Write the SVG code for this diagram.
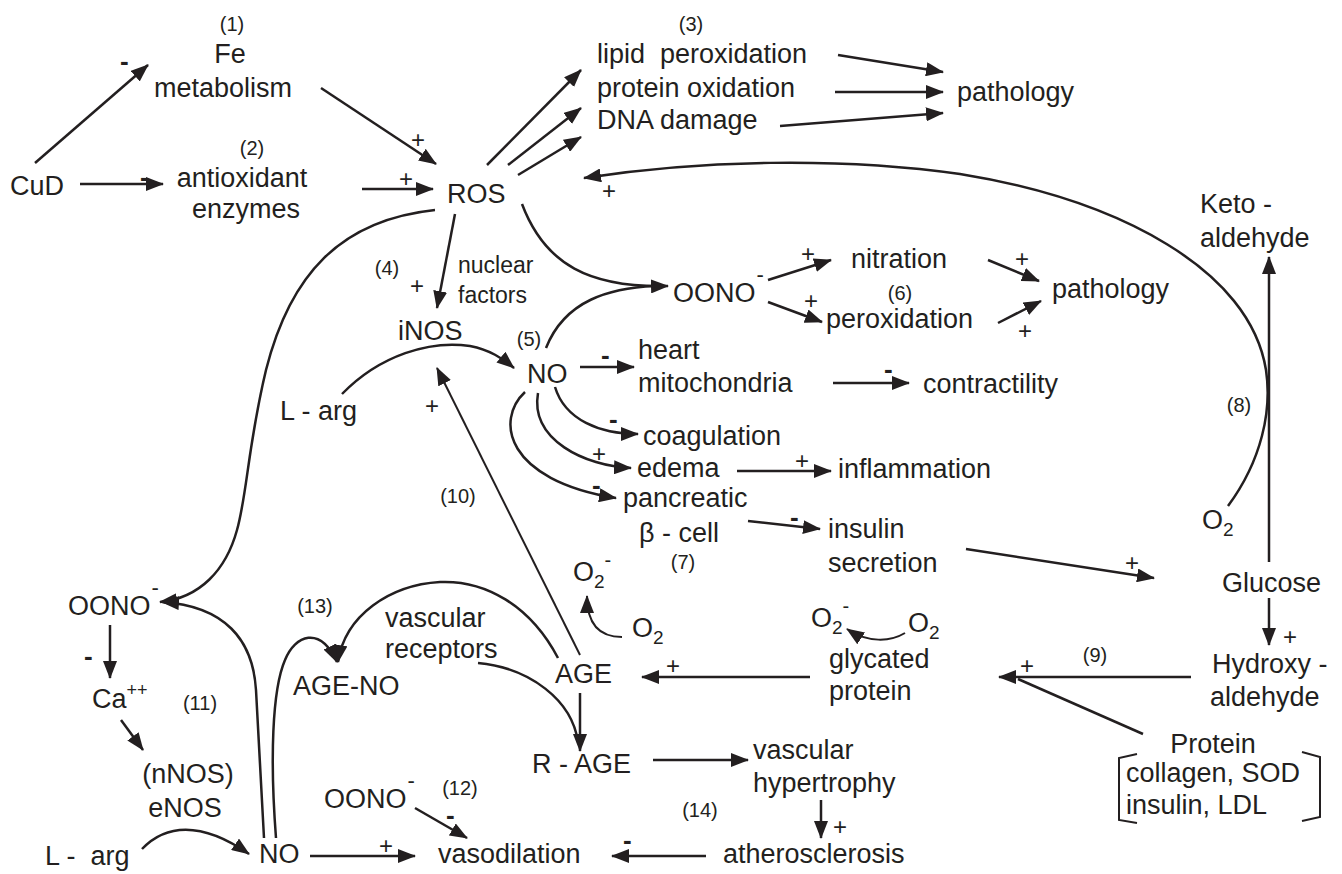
<svg xmlns="http://www.w3.org/2000/svg" width="1342" height="874" viewBox="0 0 1342 874">
<defs>
<marker id="ah" viewBox="0 0 18 14" refX="17" refY="7" markerWidth="18" markerHeight="14" orient="auto" markerUnits="userSpaceOnUse">
<path d="M0,0 L18,7 L0,14 z" fill="#231f20"/>
</marker>
</defs>
<style>
text{font-family:"Liberation Sans",Arial,sans-serif;fill:#231f20;white-space:pre}
.t{font-size:27px}
.n{font-size:20px}
.s{font-size:23px}
.p{font-size:24px}
.m{font-size:26px;font-weight:bold}
.c line,.c path{stroke:#231f20;stroke-width:2.5;fill:none}
.a{marker-end:url(#ah)}
.thin{stroke-width:2!important}
</style>
<rect width="1342" height="874" fill="#fff"/>

<g class="c" id="connectors">
<line class="a" x1="35" y1="163" x2="148" y2="65"/>
<line class="a" x1="80" y1="184" x2="163" y2="184"/>
<line class="a" x1="321" y1="88" x2="436" y2="164"/>
<line class="a" x1="362" y1="189" x2="433" y2="189"/>
<line class="a" x1="487" y1="165" x2="581" y2="70"/>
<line class="a" x1="508" y1="165" x2="581" y2="108"/>
<line class="a" x1="518" y1="175" x2="581" y2="137"/>
<line class="a" x1="838" y1="55" x2="943" y2="72"/>
<line class="a" x1="835" y1="92" x2="943" y2="92"/>
<line class="a" x1="780" y1="126" x2="943" y2="113"/>
<path class="a" d="M1228,506 C1262,460 1272,410 1266,370 C1250,270 1120,200 960,174 C840,157 700,160 584,178"/>
<line class="a" x1="455" y1="214" x2="437" y2="308"/>
<path class="a" d="M522,204 C545,265 590,288 668,286"/>
<path d="M546,348 C565,300 610,288 655,286"/>
<path class="a" d="M435,210 C340,220 290,275 266,370 C248,445 247,495 237,530 C226,570 200,598 160,602"/>
<path class="a" d="M342,394 C380,355 430,340 470,346 C490,350 502,358 514,368"/>
<line class="a thin" x1="580" y1="655" x2="437" y2="368"/>
<line class="a" x1="580" y1="367" x2="634" y2="367"/>
<line class="a" x1="833" y1="383" x2="909" y2="383"/>
<path class="a" d="M555,387 C565,420 600,434 638,434"/>
<path class="a" d="M538,393 C530,440 585,466 631,468"/>
<path class="a" d="M525,392 C495,420 505,480 616,498"/>
<line class="a" x1="737" y1="471" x2="831" y2="471"/>
<line class="a" x1="748" y1="521" x2="820" y2="529"/>
<line class="a" x1="966" y1="549" x2="1154" y2="578"/>
<line class="a" x1="768" y1="280" x2="831" y2="260"/>
<line class="a" x1="768" y1="302" x2="822" y2="322"/>
<line class="a" x1="988" y1="260" x2="1039" y2="281"/>
<line class="a" x1="998" y1="323" x2="1041" y2="301"/>
<line class="a" x1="1269" y1="562" x2="1269" y2="257"/>
<line class="a" x1="1269" y1="598" x2="1269" y2="645"/>
<line class="a" x1="1191" y1="677" x2="999" y2="677"/>
<line x1="1143" y1="734" x2="1018" y2="679"/>
<path class="thin" d="M1137,754 L1119,758 L1119,820 L1137,823"/>
<path class="thin" d="M1302,752 L1320,757 L1320,817 L1302,821"/>
<path class="a thin" d="M905,633 C890,642 868,643 847,629"/>
<line class="a" x1="810" y1="677" x2="642" y2="677"/>
<path class="a thin" d="M622,637 C600,637 587,625 587,596"/>
<line class="a" x1="580" y1="693" x2="580" y2="751"/>
<path d="M478,663 C530,668 572,700 578,742"/>
<path class="a" d="M558,658 C530,605 485,580 440,582 C390,585 345,615 338,662"/>
<line class="a" x1="653" y1="760" x2="748" y2="760"/>
<line class="a" x1="821" y1="800" x2="821" y2="838"/>
<line class="a" x1="706" y1="856" x2="612" y2="856"/>
<line class="a" x1="310" y1="856" x2="415" y2="856"/>
<line class="a" x1="415" y1="808" x2="467" y2="838"/>
<path class="a" d="M142,849 C165,825 200,820 249,854"/>
<path class="a" d="M264,838 L256,690 C253,640 225,606 162,602"/>
<path class="a" d="M276,838 C270,760 272,690 285,660 C295,635 320,625 337,662"/>
<line class="a" x1="110" y1="625" x2="110" y2="678"/>
<line class="a" x1="121" y1="720" x2="143" y2="750"/>
</g>

<g id="signs">
<text class="m" x="120" y="70">-</text>
<text class="m" x="140" y="186">-</text>
<text class="p" x="411" y="148">+</text>
<text class="p" x="399" y="187">+</text>
<text class="p" x="602" y="199">+</text>
<text class="p" x="410" y="294">+</text>
<text class="p" x="425" y="414">+</text>
<text class="m" x="601" y="364">-</text>
<text class="m" x="884" y="378">-</text>
<text class="m" x="609" y="428">-</text>
<text class="p" x="592" y="462">+</text>
<text class="p" x="795" y="469">+</text>
<text class="m" x="592" y="494">-</text>
<text class="m" x="790" y="526">-</text>
<text class="p" x="1125" y="571">+</text>
<text class="p" x="801" y="262">+</text>
<text class="p" x="804" y="309">+</text>
<text class="p" x="1015" y="267">+</text>
<text class="p" x="1018" y="339">+</text>
<text class="p" x="1283" y="645">+</text>
<text class="p" x="1020" y="674">+</text>
<text class="p" x="666" y="674">+</text>
<text class="p" x="833" y="835">+</text>
<text class="m" x="623" y="849">-</text>
<text class="p" x="379" y="854">+</text>
<text class="m" x="446" y="824">-</text>
<text class="m" x="84" y="665">-</text>
</g>

<g id="n-cud"><text class="t" x="10" y="195">CuD</text></g>
<g id="n-fe"><text class="n" x="232" y="31" text-anchor="middle">(1)</text><text class="t" x="230" y="63" text-anchor="middle">Fe</text><text class="t" x="223" y="97" text-anchor="middle">metabolism</text></g>
<g id="n-antiox"><text class="n" x="252" y="155" text-anchor="middle">(2)</text><text class="t" x="242" y="187" text-anchor="middle">antioxidant</text><text class="t" x="246" y="218" text-anchor="middle">enzymes</text></g>
<g id="n-ros"><text class="t" x="447" y="203">ROS</text></g>
<g id="n-damage"><text class="n" x="691" y="31" text-anchor="middle">(3)</text><text class="t" x="597" y="63">lipid  peroxidation</text><text class="t" x="597" y="97">protein oxidation</text><text class="t" x="597" y="129">DNA damage</text></g>
<g id="n-path1"><text class="t" x="957" y="101">pathology</text></g>
<g id="n-inos"><text class="n" x="387" y="275" text-anchor="middle">(4)</text><text class="s" x="458" y="273">nuclear</text><text class="s" x="458" y="303">factors</text><text class="t" x="398" y="340">iNOS</text></g>
<g id="n-no"><text class="n" x="529" y="346" text-anchor="middle">(5)</text><text class="t" x="527" y="383">NO</text></g>
<g id="n-larg1"><text class="t" x="280" y="420">L - arg</text></g>
<g id="n-heart"><text class="t" x="638" y="359">heart</text><text class="t" x="638" y="392">mitochondria</text></g>
<g id="n-contract"><text class="t" x="923" y="393">contractility</text></g>
<g id="n-oono6"><text class="t" x="673" y="302">OONO<tspan font-size="22" dx="1" dy="-20">-</tspan></text></g>
<g id="n-nitr"><text class="t" x="851" y="268">nitration</text><text class="n" x="900" y="300" text-anchor="middle">(6)</text><text class="t" x="826" y="328">peroxidation</text></g>
<g id="n-path2"><text class="t" x="1052" y="298">pathology</text></g>
<g id="n-coag"><text class="t" x="643" y="445">coagulation</text></g>
<g id="n-edema"><text class="t" x="637" y="477">edema</text></g>
<g id="n-infl"><text class="t" x="838" y="478">inflammation</text></g>
<g id="n-panc"><text class="t" x="623" y="507">pancreatic</text><text class="t" x="639" y="542">β - cell</text><text class="n" x="683" y="569" text-anchor="middle">(7)</text></g>
<g id="n-insulin"><text class="t" x="828" y="538">insulin</text><text class="t" x="828" y="572">secretion</text></g>
<g id="n-keto"><text class="t" x="1200" y="213">Keto -</text><text class="t" x="1200" y="247">aldehyde</text></g>
<g id="n-o2g"><text class="n" x="1239" y="412" text-anchor="middle">(8)</text><text class="t" x="1202" y="529">O<tspan font-size="19" dy="7">2</tspan></text></g>
<g id="n-glucose"><text class="t" x="1222" y="592">Glucose</text></g>
<g id="n-hydroxy"><text class="t" x="1212" y="673">Hydroxy -</text><text class="t" x="1210" y="706">aldehyde</text></g>
<g id="n-9"><text class="n" x="1095" y="662" text-anchor="middle">(9)</text></g>
<g id="n-protein"><text class="t" x="1213" y="753" text-anchor="middle">Protein</text><text class="t" x="1126" y="782">collagen, SOD</text><text class="t" x="1126" y="814">insulin, LDL</text></g>
<g id="n-glycated"><text class="t" x="829" y="668">glycated</text><text class="t" x="829" y="700">protein</text></g>
<g id="n-o2r"><text class="t" x="811" y="627">O<tspan font-size="19" dy="7">2</tspan><tspan font-size="20" dy="-21">-</tspan></text><text class="t" x="908" y="632">O<tspan font-size="19" dy="7">2</tspan></text></g>
<g id="n-age"><text class="t" x="555" y="683">AGE</text></g>
<g id="n-o2m"><text class="t" x="573" y="581">O<tspan font-size="19" dy="7">2</tspan><tspan font-size="20" dy="-21">-</tspan></text><text class="t" x="632" y="637">O<tspan font-size="19" dy="7">2</tspan></text></g>
<g id="n-10"><text class="n" x="458" y="503" text-anchor="middle">(10)</text></g>
<g id="n-vrec"><text class="t" x="385" y="627">vascular</text><text class="t" x="385" y="658">receptors</text></g>
<g id="n-ageno"><text class="n" x="315" y="613" text-anchor="middle">(13)</text><text class="t" x="293" y="695">AGE-NO</text></g>
<g id="n-rage"><text class="t" x="532" y="773">R - AGE</text></g>
<g id="n-vhyp"><text class="t" x="753" y="759">vascular</text><text class="t" x="753" y="792">hypertrophy</text></g>
<g id="n-ath"><text class="n" x="700" y="817" text-anchor="middle">(14)</text><text class="t" x="723" y="863">atherosclerosis</text></g>
<g id="n-vaso"><text class="t" x="438" y="863">vasodilation</text></g>
<g id="n-oono12"><text class="n" x="460" y="795" text-anchor="middle">(12)</text><text class="t" x="324" y="808">OONO<tspan font-size="22" dx="1" dy="-20">-</tspan></text></g>
<g id="n-no2"><text class="t" x="259" y="863">NO</text></g>
<g id="n-larg2"><text class="t" x="45" y="865">L -  arg</text></g>
<g id="n-enos"><text class="t" x="188" y="783" text-anchor="middle">(nNOS)</text><text class="t" x="185" y="817" text-anchor="middle">eNOS</text></g>
<g id="n-ca"><text class="n" x="200" y="710" text-anchor="middle">(11)</text><text class="t" x="92" y="708">Ca<tspan font-size="18" dy="-12">++</tspan></text></g>
<g id="n-oonol"><text class="t" x="68" y="615">OONO<tspan font-size="22" dx="1" dy="-20">-</tspan></text></g>
</svg>
